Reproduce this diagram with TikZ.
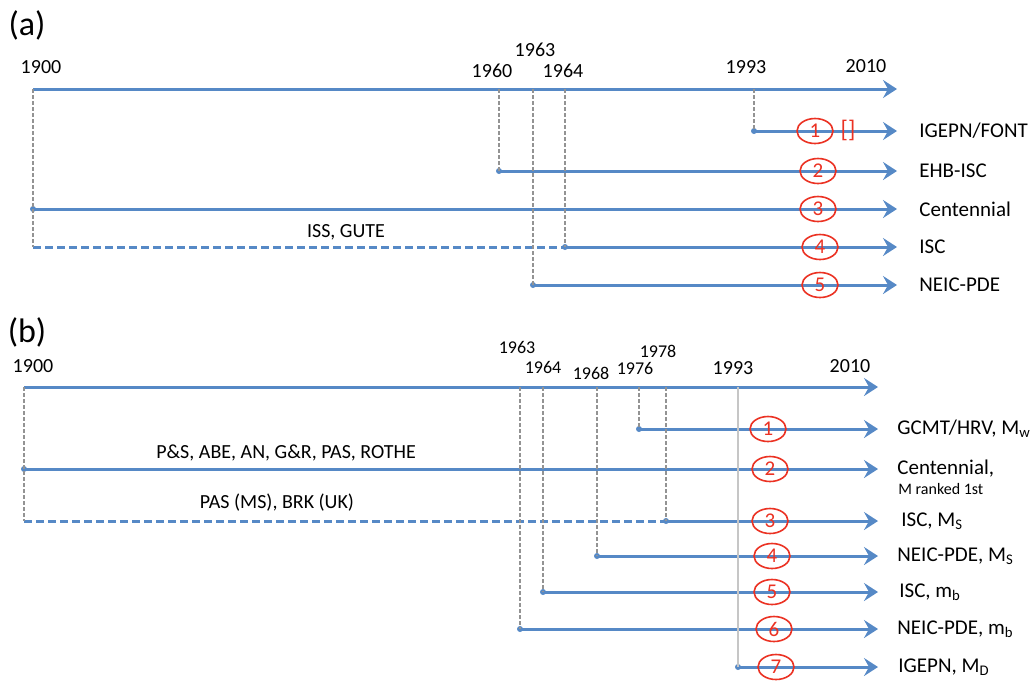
\documentclass[tikz,border=0pt]{standalone}
\usepackage{fontspec}
\setmainfont{Carlito}
\usetikzlibrary{arrows.meta, shapes.geometric}
\definecolor{lineblue}{RGB}{86,137,198}
\definecolor{markred}{RGB}{235,50,35}
\tikzset{
  timeline/.style={draw=lineblue, line width=1.5pt, -{Stealth[length=7pt,width=9pt,inset=2.5pt]}},
  gapline/.style={draw=lineblue, line width=1.5pt, dash pattern=on 4pt off 2pt},
  drop/.style={draw=gray!85, line width=0.6pt, dash pattern=on 2pt off 1pt},
  dropsolid/.style={draw=gray!45, line width=0.9pt},
  yr/.style={font=\fontsize{10}{12}\selectfont, inner sep=1pt},
  yrsmall/.style={font=\fontsize{9}{11}\selectfont, inner sep=1pt},
  src/.style={anchor=west, font=\fontsize{10.5}{12}\selectfont, inner sep=0pt},
  num/.style={ellipse, draw=markred, line width=0.8pt, text=markred, minimum width=18pt,
              minimum height=12.5pt, inner sep=0pt, font=\fontsize{10.5}{12}\selectfont},
  panel/.style={font=\fontsize{17}{20}\selectfont},
  startdot/.style={fill=lineblue}
}
\begin{document}
\begin{tikzpicture}[x=0.5pt, y=-0.5pt]
  \useasboundingbox (0,0) rectangle (1032,681);
  % ---- panel (a): axis and years ----
  \node[panel] (pa) at (27,25) {(a)};
  \coordinate (ta0) at (33,89);
  \coordinate (taend) at (897,89);
  \draw[timeline] (ta0) -- (taend);
  \foreach \yr/\x/\y in {1900/41/67, 1960/492/71, 1963/535/50, 1964/563/71, 1993/746/67, 2010/866/66}
    \node[yr] (ya\yr) at (\x,\y) {\yr};
  \foreach \yr/\x in {1900/33, 1960/499, 1963/533, 1964/565, 1993/754}
    \coordinate (ta\yr) at (\x,89);
  % ---- panel (a): catalogues ----
  \foreach \i/\xs/\y/\xc/\t in {1/754/131/815/{IGEPN/FONT}, 2/499/171/818/{EHB-ISC},
                                3/33/209/818/{Centennial}, 4/565/247/820/{ISC},
                                5/533/285/820/{NEIC-PDE}} {
    \coordinate (sa\i) at (\xs,\y);
    \coordinate (ea\i) at (897,\y);
    \draw[timeline] (sa\i) -- (ea\i);
    \fill[startdot] (sa\i) circle (3);
    \node[num] (ca\i) at (\xc,\y) {\raisebox{-1pt}{\i}};
    \node[src] (la\i) at (919,\y) {\t};
  }
  \node[text=markred, font=\fontsize{12}{14}\selectfont] (ref) at (848,130) {[]};
  \coordinate (da4) at (33,247);
  \draw[gapline] (da4) -- (sa4);
  \node[yr] (gapa) at (346,232) {ISS, GUTE};
  \draw[drop] (ta1900) -- (da4);
  \draw[drop] (ta1960) -- (sa2);
  \draw[drop] (ta1963) -- (sa5);
  \draw[drop] (ta1964) -- (sa4);
  \draw[drop] (ta1993) -- (sa1);
  % ---- panel (b): axis and years ----
  \node[panel] (pb) at (27,332) {(b)};
  \coordinate (tb0) at (24,387);
  \coordinate (tbend) at (878,387);
  \draw[timeline] (tb0) -- (tbend);
  \foreach \yr/\x/\y in {1900/33/366, 1993/733/368, 2010/850/366}
    \node[yr] (yb\yr) at (\x,\y) {\yr};
  \foreach \yr/\x/\y in {1963/517/347, 1964/543/367, 1968/591/373, 1976/635/368, 1978/658/351}
    \node[yrsmall] (yb\yr) at (\x,\y) {\yr};
  \foreach \yr/\x in {1900/24, 1963/520, 1964/543, 1968/597, 1976/639, 1978/666, 1993/738}
    \coordinate (tb\yr) at (\x,387);
  % ---- panel (b): catalogues and magnitudes ----
  \foreach \i/\xs/\y/\xc/\xl/\t in {1/639/429/768/897/{GCMT/HRV, M\textsubscript{w}},
                                    2/24/469/770/897/{Centennial,},
                                    3/666/521/770/901/{ISC, M\textsubscript{S}},
                                    4/597/556/772/897/{NEIC-PDE, M\textsubscript{S}},
                                    5/543/592/772/899/{ISC, m\textsubscript{b}},
                                    6/520/629/774/897/{NEIC-PDE, m\textsubscript{b}},
                                    7/738/667/776/898/{IGEPN, M\textsubscript{D}}} {
    \coordinate (sb\i) at (\xs,\y);
    \coordinate (eb\i) at (878,\y);
    \draw[timeline] (sb\i) -- (eb\i);
    \fill[startdot] (sb\i) circle (3);
    \node[num] (cb\i) at (\xc,\y) {\raisebox{-1pt}{\i}};
    \node[src] (lb\i) at (\xl,\y) {\t};
  }
  \node[src, font=\fontsize{8}{10}\selectfont] (rank) at (898,489) {M ranked 1st};
  \coordinate (db3) at (24,521);
  \draw[gapline] (db3) -- (sb3);
  \node[yr] (gapb2) at (286,453) {P\&S, ABE, AN, G\&R, PAS, ROTHE};
  \node[yr] (gapb3) at (277,503) {PAS (MS), BRK (UK)};
  \draw[drop] (tb1900) -- (db3);
  \draw[drop] (tb1963) -- (sb6);
  \draw[drop] (tb1964) -- (sb5);
  \draw[drop] (tb1968) -- (sb4);
  \draw[drop] (tb1976) -- (sb1);
  \draw[drop] (tb1978) -- (sb3);
  \draw[dropsolid] (tb1993) -- (sb7);
\end{tikzpicture}
\end{document}
